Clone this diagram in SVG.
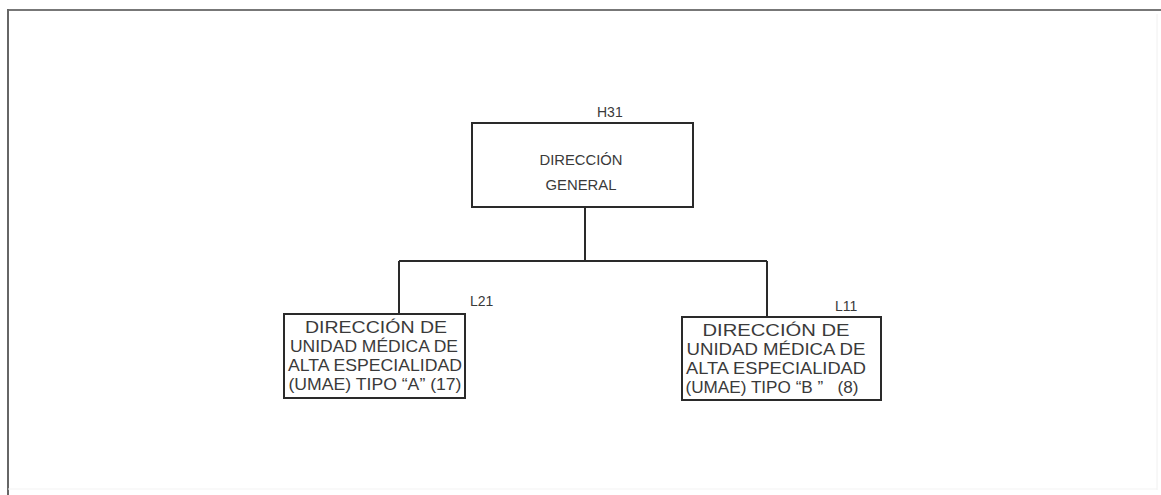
<svg xmlns="http://www.w3.org/2000/svg" width="1161" height="495" viewBox="0 0 1161 495">
<style>
.box{fill:#fff;stroke:#2a2a2a;stroke-width:2}
.con{fill:none;stroke:#2a2a2a;stroke-width:2}
.t{font-family:"Liberation Sans",Arial,sans-serif;fill:#3a3a3a;text-anchor:middle}
.lbl{font-family:"Liberation Sans",Arial,sans-serif;fill:#3a3a3a;font-size:14px}
</style>
<rect width="1161" height="495" fill="#fff"/>
<g id="frame">
<line x1="8" y1="10" x2="1161" y2="10" stroke="#777" stroke-width="2"/>
<line x1="8" y1="9" x2="8" y2="495" stroke="#666" stroke-width="2"/>
<line x1="1157" y1="14" x2="1157" y2="490" stroke="#f0f0f0" stroke-width="1"/>
<line x1="8" y1="489" x2="1157" y2="489" stroke="#f3f3f3" stroke-width="1"/>
</g>
<g id="connectors">
<path class="con" d="M585 207 V261 M399 261 H767 M399 261 V314 M767 261 V317"/>
</g>
<g id="n-h31">
<rect class="box" x="472" y="123" width="221" height="84"/>
<text class="lbl" x="597" y="117">H31</text>
<text class="t" x="581" y="165" font-size="15" textLength="83" lengthAdjust="spacingAndGlyphs">DIRECCIÓN</text>
<text class="t" x="581" y="190" font-size="15" textLength="71" lengthAdjust="spacingAndGlyphs">GENERAL</text>
</g>
<g id="n-l21">
<rect class="box" x="284" y="314" width="181" height="84"/>
<text class="lbl" x="470" y="306">L21</text>
<text class="t" x="376" y="333" font-size="16.5" textLength="142" lengthAdjust="spacingAndGlyphs">DIRECCIÓN DE</text>
<text class="t" x="374" y="352" font-size="16.5" textLength="168" lengthAdjust="spacingAndGlyphs">UNIDAD MÉDICA DE</text>
<text class="t" x="375" y="371" font-size="16.5" textLength="174" lengthAdjust="spacingAndGlyphs">ALTA ESPECIALIDAD</text>
<text class="t" x="375" y="390" font-size="16.5" textLength="173" lengthAdjust="spacingAndGlyphs">(UMAE) TIPO “A” (17)</text>
</g>
<g id="n-l11">
<rect class="box" x="682" y="317" width="199" height="83"/>
<text class="lbl" x="835" y="311">L11</text>
<text class="t" x="776" y="336" font-size="17" textLength="147" lengthAdjust="spacingAndGlyphs">DIRECCIÓN DE</text>
<text class="t" x="776" y="355" font-size="17" textLength="179" lengthAdjust="spacingAndGlyphs">UNIDAD MÉDICA DE</text>
<text class="t" x="776" y="374" font-size="17" textLength="180" lengthAdjust="spacingAndGlyphs">ALTA ESPECIALIDAD</text>
<text class="t" x="772" y="393" font-size="17" textLength="173" lengthAdjust="spacingAndGlyphs">(UMAE) TIPO “B ”&#160;&#160; (8)</text>
</g>
</svg>
